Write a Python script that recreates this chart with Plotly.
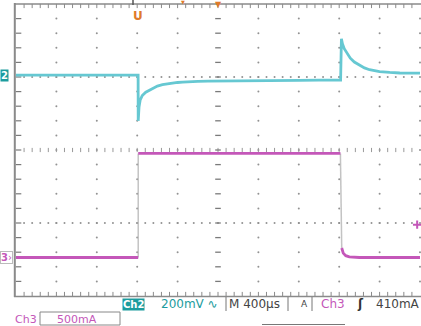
import numpy as np
import plotly.graph_objects as go

# ---------------- data ----------------
# Ch2 : voltage (mV), Ch3 : current (mA); time in microseconds
t_ch2 = [-2000, -1500, -1000, -791, -790, -782, -770, -750, -715, -680, -650, -600,
         -550, -500, -450, -400, -350, -300, -200, -100, 0, 200, 400, 600, 800,
         1000, 1214, 1222, 1232, 1250, 1280, 1310, 1350, 1400, 1450, 1500, 1600,
         1700, 1800, 2000]
v_ch2 = [0, 0, 0, 0, -250, -175, -135, -112, -93, -82, -72, -60,
         -52, -47, -43, -40, -38, -36, -34, -33, -32, -31, -30, -29, -28,
         -27, -27, 200, 172, 145, 115, 93, 72, 55, 40, 30, 20,
         15, 12, 11]

t_ch3 = [-2000, -1000, -790, -790, 0, 1212, 1225, 1240, 1265, 1300, 1400, 2000]
i_ch3 = [0, 0, 0, 1425, 1425, 1425, 130, 60, 25, 8, 0, 0]

ch2_scale_mv = 200      # mV/div
ch3_scale_ma = 500      # mA/div
time_div_us = 400       # us/div
ch2_offset_div = 2.05
ch3_offset_div = -2.945
trig_level_ma = 410

status_ch2 = "Ch2"
status_ch2_scale = "200mV"
status_time = "M 400µs"
status_trig_src = "Ch3"
status_trig_level = "410mA"
status_ch3 = "Ch3"
status_ch3_scale = "500mA"

# ---------------- styling ----------------
CYAN = "#66c8d2"
MAG = "#c457b9"
TEAL = "#1c9c9e"
ORANGE = "#e07a2a"
GRID = "#929292"
BORDER = "#8a8a8a"
W, H = 421, 326
L, R, T, B = 16, 1, 4, 30
PW, PH = W - L - R, H - T - B


def px(x):
    return (x - L) / PW


def py(y):
    return (H - B - y) / PH


y2 = [ch2_offset_div + v / ch2_scale_mv for v in v_ch2]
y3 = [ch3_offset_div + i / ch3_scale_ma for i in i_ch3]

# split ch3 into trace and fast edges
main_x, main_y, edge_x, edge_y = [], [], [], []
for k in range(len(t_ch3)):
    main_x.append(t_ch3[k]); main_y.append(y3[k])
    if k + 1 < len(t_ch3) and abs(i_ch3[k + 1] - i_ch3[k]) > ch3_scale_ma:
        edge_x += [t_ch3[k], t_ch3[k + 1], None]
        edge_y += [y3[k], y3[k + 1], None]
        main_x.append(None); main_y.append(None)

fig = go.Figure()

# ---------------- graticule ----------------
xmin, xmax = -5 * time_div_us, 5 * time_div_us
upx = time_div_us / (PW / 10)          # microseconds per pixel
upy = 8 / PH                           # divisions per pixel
cols = [xmin + time_div_us * k for k in range(1, 11) if k != 5]
gx, gy = [], []
for c in cols:
    for j in range(1, 20):
        gx.append(c); gy.append(-4 + 0.4 * j)
for r in (-2, 2):
    for j in range(1, 50):
        gx.append(xmin + j * time_div_us * 0.2); gy.append(r)
fig.add_trace(go.Scatter(x=gx, y=gy, mode="markers", cliponaxis=False, hoverinfo="skip",
                         marker=dict(size=2, color=GRID, line=dict(width=0)), showlegend=False))
# center row ticks
cx = [xmin + j * time_div_us * 0.2 for j in range(1, 50)]
fig.add_trace(go.Scatter(x=cx, y=[0] * len(cx), mode="markers", hoverinfo="skip", cliponaxis=False,
                         marker=dict(symbol="line-ns", size=3, line=dict(width=1, color="#999")),
                         showlegend=False))
# center column ticks
cy = [-4 + 0.4 * j for j in range(1, 20)]
fig.add_trace(go.Scatter(x=[0] * len(cy), y=cy, mode="markers", hoverinfo="skip",
                         marker=dict(symbol="line-ew", size=4, line=dict(width=1.3, color="#7a7a7a")),
                         showlegend=False))
# border ticks (inside)
fig.add_trace(go.Scatter(x=[xmin + 2.5 * upx] * len(cy), y=cy, mode="markers", hoverinfo="skip",
                         cliponaxis=False,
                         marker=dict(symbol="line-ew", size=4, line=dict(width=1.2, color="#7a7a7a")),
                         showlegend=False))
fig.add_trace(go.Scatter(x=cx + cx, y=[4 - 2 * upy] * len(cx) + [-4 + 2 * upy] * len(cx),
                         mode="markers", hoverinfo="skip", cliponaxis=False,
                         marker=dict(symbol="line-ns", size=3, line=dict(width=1, color="#8a8a8a")),
                         showlegend=False))

# ---------------- traces ----------------
fig.add_trace(go.Scatter(x=edge_x, y=edge_y, mode="lines", hoverinfo="skip",
                         line=dict(color="rgba(180,180,180,0.8)", width=1.5), showlegend=False))
fig.add_trace(go.Scatter(x=t_ch2, y=y2, mode="lines", line=dict(color=CYAN, width=2.8),
                         showlegend=False))
fig.add_trace(go.Scatter(x=main_x, y=main_y, mode="lines", line=dict(color=MAG, width=2.8),
                         showlegend=False))
# trigger level marker (right edge)
fig.add_trace(go.Scatter(x=[xmin + 9.93 * time_div_us], y=[ch3_offset_div + trig_level_ma / ch3_scale_ma + 0.08],
                         mode="markers", cliponaxis=False, hoverinfo="skip",
                         marker=dict(symbol="cross-thin", size=6, line=dict(width=2, color=MAG)),
                         showlegend=False))

shapes = [
    dict(type="line", xref="paper", yref="paper", x0=px(14.8), x1=px(14.8), y0=py(297), y1=py(3),
         line=dict(color=BORDER, width=2)),
    dict(type="line", xref="paper", yref="paper", x0=px(14), x1=1.01, y0=py(4), y1=py(4),
         line=dict(color=BORDER, width=1.6)),
    dict(type="line", xref="paper", yref="paper", x0=px(14), x1=1.01, y0=py(296.5), y1=py(296.5),
         line=dict(color=BORDER, width=1.6)),
    # trigger position tick above top border
    dict(type="line", xref="paper", yref="paper", x0=px(133), x1=px(133), y0=py(0), y1=py(5),
         line=dict(color="#555", width=1.5)),
    # status boxes
    dict(type="line", xref="paper", yref="paper", x0=px(226), x1=px(226), y0=py(297), y1=py(311),
         line=dict(color="#777", width=1)),
    dict(type="line", xref="paper", yref="paper", x0=px(288), x1=px(288), y0=py(297), y1=py(311),
         line=dict(color="#777", width=1)),
    dict(type="line", xref="paper", yref="paper", x0=px(312), x1=px(312), y0=py(297), y1=py(311),
         line=dict(color="#777", width=1)),
    dict(type="rect", xref="paper", yref="paper", x0=px(40), x1=px(120), y0=py(325), y1=py(312),
         line=dict(color="#888", width=1)),
    dict(type="line", xref="paper", yref="paper", x0=px(262), x1=px(345), y0=py(324.5), y1=py(324.5),
         line=dict(color="#777", width=1.2)),
]

ann = []
F = "DejaVu Sans"
# channel reference markers on the left
ann.append(dict(xref="paper", yref="y", x=px(0), y=ch2_offset_div, xanchor="left", yanchor="middle",
                text="<b>2</b>", showarrow=False, bgcolor=TEAL, borderpad=0,
                font=dict(family=F, size=10, color="white")))
ann.append(dict(xref="paper", yref="y", x=px(0), y=ch3_offset_div, xanchor="left", yanchor="middle",
                text="<b>3</b>›", showarrow=False, bordercolor="#bbb", borderwidth=1, borderpad=0,
                font=dict(family=F, size=10, color=MAG)))
# orange markers at the top
ann.append(dict(xref="paper", yref="paper", x=px(138), y=py(16), text="<b>U</b>", showarrow=False,
                font=dict(family="DejaVu Sans", size=12, color=ORANGE), xanchor="center", yanchor="middle"))
ann.append(dict(xref="paper", yref="paper", x=px(218), y=py(4), text="▼", showarrow=False,
                font=dict(family=F, size=8, color=ORANGE), xanchor="center", yanchor="middle"))
ann.append(dict(xref="paper", yref="paper", x=px(183), y=py(2), text="▼", showarrow=False,
                font=dict(family=F, size=5, color=ORANGE), xanchor="center", yanchor="middle"))
# status line 1
ann.append(dict(xref="paper", yref="paper", x=px(133), y=py(304), text="<b>" + status_ch2 + "</b>",
                showarrow=False, bgcolor=TEAL, borderpad=0, xanchor="center", yanchor="middle",
                font=dict(family=F, size=10, color="white")))
ann.append(dict(xref="paper", yref="paper", x=px(159), y=py(304), text=status_ch2_scale + " ∿",
                showarrow=False, xanchor="left", yanchor="middle",
                font=dict(family=F, size=12, color=TEAL)))
ann.append(dict(xref="paper", yref="paper", x=px(227), y=py(304), text=status_time,
                showarrow=False, xanchor="left", yanchor="middle",
                font=dict(family=F, size=12, color="#444")))
ann.append(dict(xref="paper", yref="paper", x=px(304), y=py(304), text="A",
                showarrow=False, xanchor="center", yanchor="middle",
                font=dict(family=F, size=9, color="#444")))
ann.append(dict(xref="paper", yref="paper", x=px(319), y=py(304), text=status_trig_src,
                showarrow=False, xanchor="left", yanchor="middle",
                font=dict(family=F, size=12, color=MAG)))
ann.append(dict(xref="paper", yref="paper", x=px(360), y=py(304), text="<b>ʃ</b>",
                showarrow=False, xanchor="center", yanchor="middle",
                font=dict(family=F, size=12, color="#333")))
ann.append(dict(xref="paper", yref="paper", x=px(374), y=py(304), text=status_trig_level,
                showarrow=False, xanchor="left", yanchor="middle",
                font=dict(family=F, size=12, color="#444")))
# status line 2
ann.append(dict(xref="paper", yref="paper", x=px(13), y=py(319), text=status_ch3,
                showarrow=False, xanchor="left", yanchor="middle",
                font=dict(family=F, size=11, color=MAG)))
ann.append(dict(xref="paper", yref="paper", x=px(77), y=py(319), text=status_ch3_scale,
                showarrow=False, xanchor="center", yanchor="middle",
                font=dict(family=F, size=11, color=MAG)))

fig.update_layout(
    width=W, height=H, margin=dict(l=L, r=R, t=T, b=B),
    paper_bgcolor="white", plot_bgcolor="white",
    xaxis=dict(range=[xmin, xmax], showgrid=False, zeroline=False, showticklabels=False,
               ticks="", showline=False, fixedrange=True),
    yaxis=dict(range=[-4, 4], showgrid=False, zeroline=False, showticklabels=False,
               ticks="", showline=False, fixedrange=True),
    shapes=shapes, annotations=ann, showlegend=False,
)

fig.write_html("out.html")
